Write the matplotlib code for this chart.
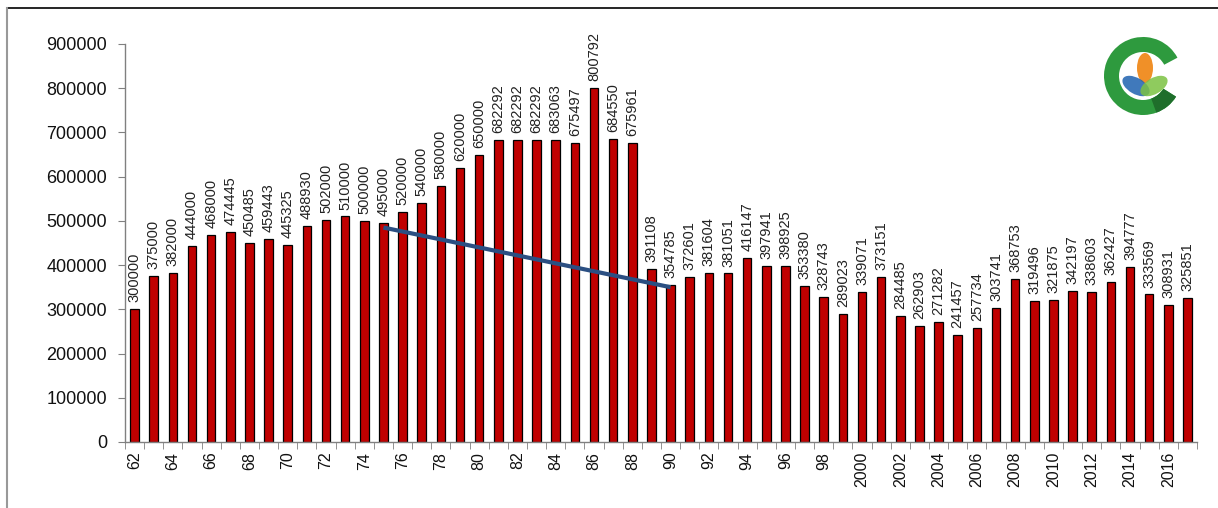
import matplotlib
matplotlib.use("Agg")
import matplotlib.pyplot as plt
from matplotlib.patches import Wedge, Ellipse
from matplotlib.lines import Line2D

plt.rcParams['font.family'] = ['Liberation Sans', 'DejaVu Sans']

years = [str(y) for y in range(62, 100)] + [str(y) for y in range(2000, 2018)]
values = [300000, 375000, 382000, 444000, 468000, 474445, 450485, 459443, 445325, 488930,
          502000, 510000, 500000, 495000, 520000, 540000, 580000, 620000, 650000, 682292,
          682292, 682292, 683063, 675497, 800792, 684550, 675961, 391108, 354785, 372601,
          381604, 381051, 416147, 397941, 398925, 353380, 328743, 289023, 339071, 373151,
          284485, 262903, 271282, 241457, 257734, 303741, 368753, 319496, 321875, 342197,
          338603, 362427, 394777, 333569, 308931, 325851]
trend_years = ['75', '90']
trend_values = [485000, 350000]
yticks = [0, 100000, 200000, 300000, 400000, 500000, 600000, 700000, 800000, 900000]

W, H = 1218, 508
fig = plt.figure(figsize=(W / 100, H / 100), dpi=100)
ax = fig.add_axes([125 / W, (H - 442) / H, (1197 - 125) / W, (442 - 44) / H])

x = list(range(len(years)))
ax.bar(x, values, width=0.45, color='#C00000', edgecolor='black', linewidth=0.9, zorder=2)

for xi, v in zip(x, values):
    ax.annotate(str(v), (xi, v), xytext=(0, 5), textcoords='offset points',
                rotation=90, ha='center', va='bottom', fontsize=10.5, color='#222222')

tx = [years.index(t) for t in trend_years]
ax.plot(tx, trend_values, color='#2B4F82', linewidth=3, solid_capstyle='butt', zorder=3)

ax.set_xlim(-0.5, len(years) - 0.5)
ax.set_ylim(0, 900000)
ax.set_yticks(yticks)
ax.set_yticklabels([str(t) for t in yticks], fontsize=13, color='#111111')
ax.set_xticks(x[::2])
ax.set_xticklabels(years[::2], rotation=90, fontsize=11.5, color='#111111')
ax.set_xticks([i - 0.5 for i in range(len(years) + 1)], minor=True)
ax.tick_params(axis='x', which='major', length=0, pad=7)
ax.tick_params(axis='x', which='minor', length=5, color='#808080', direction='out')
ax.tick_params(axis='y', length=5, color='#808080', direction='out', pad=8)
for s in ['top', 'right']:
    ax.spines[s].set_visible(False)
for s in ['left', 'bottom']:
    ax.spines[s].set_color('#808080')
    ax.spines[s].set_linewidth(1)

# frame lines
fig.add_artist(Line2D([7 / W, 1], [1 - 8 / H, 1 - 8 / H], color='black', linewidth=1.2, transform=fig.transFigure))
fig.add_artist(Line2D([7 / W, 7 / W], [0, 1 - 8 / H], color='#999999', linewidth=1.5, transform=fig.transFigure))

# logo
lx0, lx1, ly0, ly1 = 1095, 1195, 25, 125
lax = fig.add_axes([lx0 / W, (H - ly1) / H, (lx1 - lx0) / W, (ly1 - ly0) / H])
lax.set_xlim(lx0, lx1)
lax.set_ylim(ly1, ly0)
lax.set_aspect('equal')
lax.axis('off')
cx, cy = 1143, 76
lax.add_patch(Wedge((cx, cy), 39, 32, 332, width=15, facecolor='#2E9A3E', edgecolor='none'))
lax.add_patch(Wedge((cx, cy), 39, 32, 70, width=15, facecolor='#1F6E2B', edgecolor='none'))
lax.add_patch(Ellipse((1145, 68), 16, 30, angle=0, facecolor='#F08A1C', edgecolor='none', alpha=0.95))
lax.add_patch(Ellipse((1136, 86), 16, 30, angle=-60, facecolor='#1E62B0', edgecolor='none', alpha=0.85))
lax.add_patch(Ellipse((1154, 86), 16, 30, angle=60, facecolor='#7CC242', edgecolor='none', alpha=0.85))

fig.savefig('out.png', dpi=100)
